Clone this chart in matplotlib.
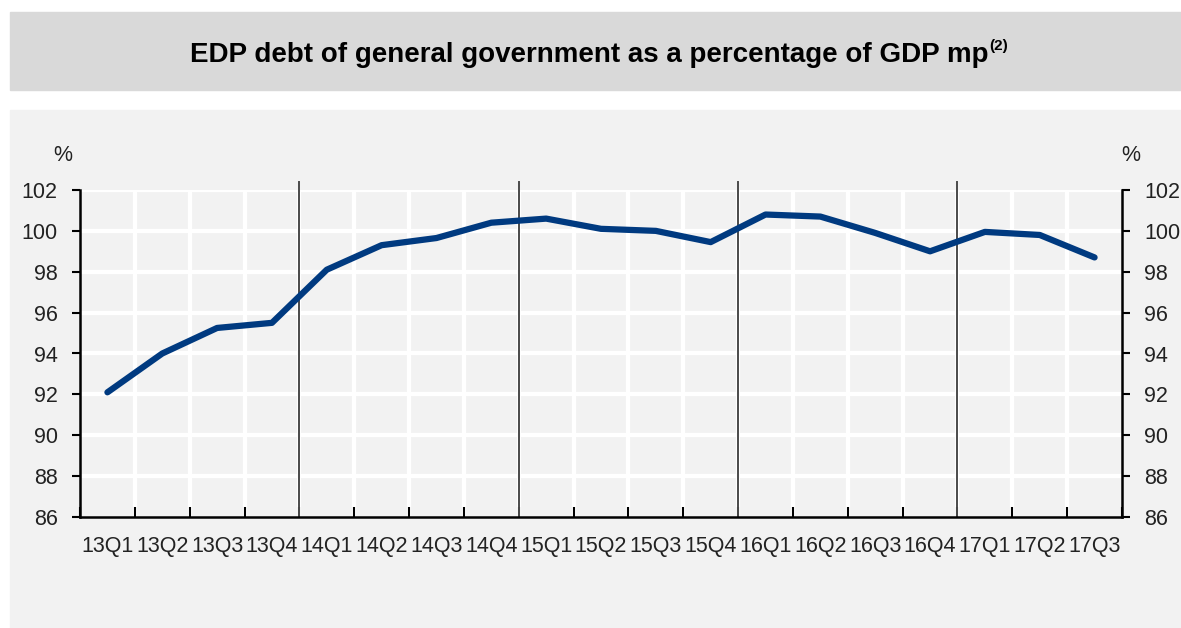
import matplotlib
matplotlib.use("Agg")
import matplotlib.pyplot as plt
from matplotlib.patches import Rectangle

plt.rcParams['font.family'] = ['Liberation Sans', 'DejaVu Sans']

quarters = ["13Q1", "13Q2", "13Q3", "13Q4", "14Q1", "14Q2", "14Q3", "14Q4",
            "15Q1", "15Q2", "15Q3", "15Q4", "16Q1", "16Q2", "16Q3", "16Q4",
            "17Q1", "17Q2", "17Q3"]
debt = [92.1, 94.0, 95.25, 95.5, 98.1, 99.3, 99.65, 100.4,
        100.6, 100.1, 100.0, 99.45, 100.8, 100.7, 99.9, 99.0,
        99.95, 99.8, 98.7]
y_ticks = [86, 88, 90, 92, 94, 96, 98, 100, 102]

dpi = 100
W, H = 1181, 628
fig = plt.figure(figsize=(W / dpi, H / dpi), dpi=dpi)
fig.patch.set_facecolor("white")

# title band and plot panel backgrounds
fig.patches.append(Rectangle((10 / W, 1 - 90 / H), 1 - 10 / W, 78 / H,
                             transform=fig.transFigure, color="#d9d9d9", zorder=-5))
fig.patches.append(Rectangle((10 / W, 0), 1 - 10 / W, 1 - 110 / H,
                             transform=fig.transFigure, color="#f2f2f2", zorder=-5))

fig.text(988 / W, 1 - 55 / H, "EDP debt of general government as a percentage of GDP mp",
         ha="right", va="center", fontsize=20, fontweight="bold", color="black")
fig.text(989 / W, 1 - 46 / H, "(2)", ha="left", va="center", fontsize=11,
         fontweight="bold", color="black")

ax = fig.add_axes([80 / W, 111 / H, 1042 / W, 327 / H])
ax.set_facecolor("#f2f2f2")
n = len(quarters)
x = [i + 0.5 for i in range(n)]

ax.set_xlim(0, n)
ax.set_ylim(86, 102)

# white grid
for yv in y_ticks[1:]:
    ax.axhline(yv, color="white", lw=3, zorder=1)
for i in range(1, n):
    ax.axvline(i, color="white", lw=3, zorder=1)

# year separators
for i in range(4, n, 4):
    ax.plot([i, i], [86, 102.4], color="#4a4a4a", lw=1.4, zorder=2, clip_on=False)

ax.plot(x, debt, color="#003a80", lw=4.5, zorder=3, solid_capstyle="round")

ax.spines["top"].set_visible(False)
for s in ["left", "right", "bottom"]:
    ax.spines[s].set_linewidth(1.8)
    ax.spines[s].set_color("black")

ax.set_yticks(y_ticks)
ax.tick_params(axis="y", which="both", left=True, right=True, labelleft=True,
               labelright=True, direction="out", length=6, width=1.5,
               labelsize=15.5, colors="black", labelcolor="#222222", pad=10)
ax.set_xticks(range(0, n + 1))
ax.set_xticklabels([])
ax.tick_params(axis="x", which="major", direction="in", length=7, width=1.5, colors="black")
ax.set_xticks(x, minor=True)
ax.set_xticklabels(quarters, minor=True)
ax.tick_params(axis="x", which="minor", length=0, labelsize=15.5, labelcolor="#222222", pad=14)

fig.text(63 / W, 1 - 156 / H, "%", ha="center", va="center", fontsize=15.5, color="#222222")
fig.text(1131 / W, 1 - 156 / H, "%", ha="center", va="center", fontsize=15.5, color="#222222")

fig.savefig("out.png", dpi=dpi)
